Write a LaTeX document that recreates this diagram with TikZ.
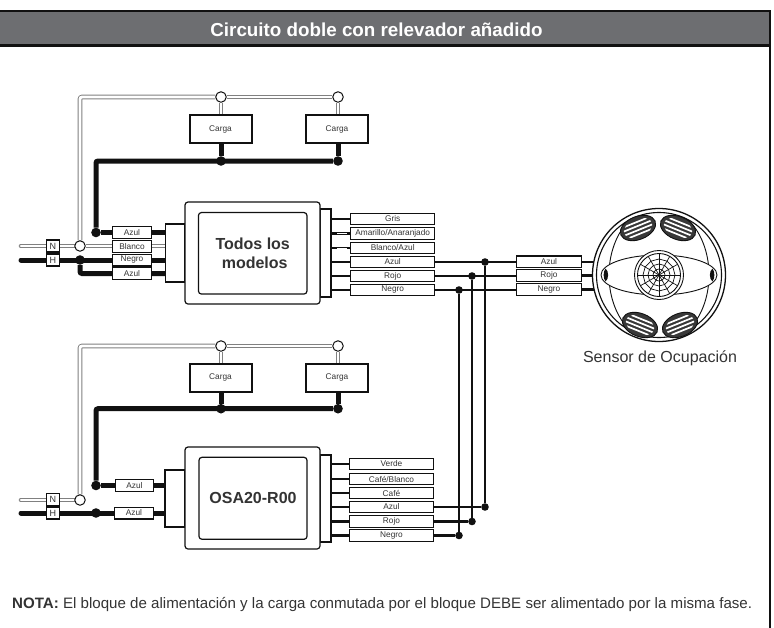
\documentclass[tikz,border=0pt]{standalone}
\usepackage{fontspec}
\setmainfont{Liberation Sans}
\usetikzlibrary{calc}
\definecolor{ink}{HTML}{111111}
\definecolor{txt}{HTML}{333333}
\definecolor{hdr}{HTML}{6D6E71}
\definecolor{pipec}{HTML}{808080}
\pgfdeclarelayer{bg}
\pgfsetlayers{bg,main}
\tikzset{
  lab/.style={draw=ink,line width=1.2pt,fill=white,inner sep=0pt,text=txt,font=\fontsize{8.3}{9}\selectfont},
  tag/.style={lab,minimum width=38.5pt,minimum height=11.8pt},
  rtag/.style={lab,minimum width=84pt,minimum height=11.5pt},
  stag/.style={lab,minimum width=65pt,minimum height=11.5pt},
  nh/.style={lab,minimum width=13pt,minimum height=12pt,font=\fontsize{9}{10}\selectfont},
  carga/.style={lab,line width=2pt,minimum width=62pt,minimum height=28pt},
  pipe/.style={draw=pipec,line width=0.9pt,double=white,double distance=2.8pt,rounded corners=2pt},
  thick wire/.style={draw=ink,line width=5pt,rounded corners=2pt},
  thin wire/.style={draw=ink,line width=2.4pt},
  hollow/.style={circle,draw=ink,line width=1pt,fill=white,minimum size=10.5pt,inner sep=0pt},
  bigdot/.style={circle,fill=ink,minimum size=9.6pt,inner sep=0pt},
  smalldot/.style={circle,fill=ink,minimum size=7.6pt,inner sep=0pt},
  module/.style={draw=ink,line width=1.2pt,fill=white,rounded corners=3pt,inner sep=0pt},
  inner module/.style={module,align=center,text=txt,font=\fontsize{16}{19}\selectfont\bfseries},
  block/.style={draw=ink,line width=1.2pt,fill=white,inner sep=0pt},
  sens/.style={draw=ink,line width=0.9pt},
}
\newcommand{\vent}[3]{%
  \begin{scope}[shift={(#1,#2)},rotate=#3]
    \fill[black!78] (0,0) ellipse [x radius=18.5pt,y radius=11.5pt];
    \draw[ink,line width=0.9pt] (0,0) ellipse [x radius=18.5pt,y radius=11.5pt];
    \begin{scope}
      \clip (0,0) ellipse [x radius=15pt,y radius=9pt];
      \foreach \yy in {-6,-2,2,6}
        \draw[white,line width=1.7pt] (-18pt,\yy pt) -- (18pt,\yy pt);
    \end{scope}
  \end{scope}}
\begin{document}
\begin{tikzpicture}[x=1pt,y=-1pt]
\useasboundingbox (0,0) rectangle (774,627);
% frame and header
\fill[hdr] (-1,11) rectangle (770,45.5);
\draw[ink,line width=2.2pt] (-2,11) -- (770,11) -- (770,630);
\draw[ink,line width=2.6pt] (-2,45.5) -- (770,45.5);
\node[font=\fontsize{18.8}{20}\selectfont\bfseries,text=white] (title) at (376.5,30) {Circuito doble con relevador añadido};

% ---------- upper circuit
\node[block,minimum width=19pt,minimum height=58pt] (b1l) at (175,253) {};
\node[block,minimum width=11pt,minimum height=88pt] (b1r) at (325.5,253) {};
\node[module,minimum width=135pt,minimum height=102pt] (m1) at (252.5,253) {};
\node[inner module,minimum width=108.5pt,minimum height=81.5pt] (i1) at (252.7,253.3) {Todos los\\[0pt]\hspace*{4pt}modelos};

\node[nh] (n1) at (52.8,246) {N};
\node[nh] (h1) at (52.8,260) {H};
\coordinate (n1s) at (21,246);
\coordinate (h1s) at (21,260);
\node[tag] (a1) at (132,232.5) {Azul};
\node[tag] (w1) at (132,246.5) {Blanco};
\node[tag] (k1) at (132,260) {Negro};
\node[tag] (a2) at (132,273.5) {Azul};
\node[hollow] (c1n) at (80,246) {};
\node[bigdot] (d1h) at (80,260) {};
\node[bigdot] (d1a) at (96,232.5) {};

\node[carga] (l1) at (220.5,129) {Carga};
\node[carga] (l2) at (337,129) {Carga};
\node[hollow] (c1a) at (221,97) {};
\node[hollow] (c1b) at (338,97) {};
\node[bigdot] (d1b) at (221,161) {};
\node[bigdot] (d1c) at (338,161) {};

\node[rtag] (r1) at (392.7,219) {Gris};
\node[rtag] (r2) at (392.7,233.5) {Amarillo/Anaranjado};
\node[rtag] (r3) at (392.7,248) {Blanco/Azul};
\node[rtag] (r4) at (392.7,262) {Azul};
\node[rtag] (r5) at (392.7,276) {Rojo};
\node[rtag] (r6) at (392.7,290) {Negro};
\node[smalldot] (t1) at (485,262) {};
\node[smalldot] (t2) at (472,276) {};
\node[smalldot] (t3) at (459,290) {};

\node[stag] (s1) at (549,261.7) {Azul};
\node[stag] (s2) at (549,275.5) {Rojo};
\node[stag] (s3) at (549,289.5) {Negro};
\coordinate (sc) at (659,275);

% ---------- lower circuit
\node[block,minimum width=20pt,minimum height=57pt] (b2l) at (175,498.5) {};
\node[block,minimum width=11pt,minimum height=87pt] (b2r) at (325.5,498.5) {};
\node[module,minimum width=135pt,minimum height=102pt] (m2) at (252.5,498) {};
\node[inner module,minimum width=108pt,minimum height=82pt] (i2) at (253,498.3) {OSA20-R00};

\node[nh] (n2) at (52.8,499.5) {N};
\node[nh] (h2) at (52.8,513) {H};
\coordinate (n2s) at (21,500);
\coordinate (h2s) at (21,513);
\node[tag] (a3) at (134.5,485.5) {Azul};
\node[tag] (a4) at (134,513) {Azul};
\node[hollow] (c2n) at (80,500) {};
\node[bigdot] (d2h) at (96,513) {};
\node[bigdot] (d2a) at (96,485.5) {};

\node[carga] (l3) at (220.5,377.5) {Carga};
\node[carga] (l4) at (337,377.5) {Carga};
\node[hollow] (c2a) at (221,346) {};
\node[hollow] (c2b) at (338,346) {};
\node[bigdot] (d2b) at (221,408.7) {};
\node[bigdot] (d2c) at (338,408.7) {};

\node[rtag] (q1) at (391.5,464) {Verde};
\node[rtag] (q2) at (391.5,479) {Café/Blanco};
\node[rtag] (q3) at (391.5,493) {Café};
\node[rtag] (q4) at (391.5,507) {Azul};
\node[rtag] (q5) at (391.5,521.5) {Rojo};
\node[rtag] (q6) at (391.5,535.5) {Negro};
\node[smalldot] (u1) at (485,507) {};
\node[smalldot] (u2) at (472,521.5) {};
\node[smalldot] (u3) at (459,535.5) {};

% ---------- connectors (behind the nodes)
\begin{pgfonlayer}{bg}
  % neutral pipes
  \draw[pipe,line cap=round] (n1s) -- (c1n);
  \draw[pipe] (c1n) -- (c1n -| b1l.west);
  \draw[pipe] (c1n) -- (c1n |- c1a) -- (c1a);
  \draw[pipe] (c1a) -- (c1b);
  \draw[pipe] (c1a) -- (l1.north -| c1a);
  \draw[pipe] (c1b) -- (l2.north -| c1b);
  \draw[pipe,line cap=round] (n2s) -- (c2n);
  \draw[pipe] (c2n) -- (c2n |- c2a) -- (c2a);
  \draw[pipe] (c2a) -- (c2b);
  \draw[pipe] (c2a) -- (l3.north -| c2a);
  \draw[pipe] (c2b) -- (l4.north -| c2b);
  % heavy wires upper
  \draw[thick wire,line cap=round] (h1s) -- (h1s -| b1l.west);
  \draw[thick wire] (d1h) -- (d1h |- a2) -- (a2 -| b1l.west);
  \draw[thick wire] (d1a) -- (a1 -| b1l.west);
  \draw[thick wire] (d1a) -- (d1a |- d1c) -- (d1c);
  \draw[thick wire] (d1b) -- (d1b |- l1.south);
  \draw[thick wire] (d1c) -- (d1c |- l2.south);
  % heavy wires lower
  \draw[thick wire,line cap=round] (h2s) -- (h2s -| b2l.west);
  \draw[thick wire] (d2a) -- (a3 -| b2l.west);
  \draw[thick wire] (d2a) -- (d2a |- d2c) -- (d2c);
  \draw[thick wire] (d2b) -- (d2b |- l3.south);
  \draw[thick wire] (d2c) -- (d2c |- l4.south);
  % signal wires upper
  \foreach \w in {r1,r2,r3,r4,r5,r6}
    \draw[thin wire] (\w.west -| b1r.east) -- (\w.west);
  \draw[white,line width=1pt] ($(r2.west)+(-13,0)$) -- ($(r2.west)+(-3.5,0)$);
  \draw[white,line width=1pt] ($(r3.west)+(-13,0)$) -- ($(r3.west)+(-3.5,0)$);
  \draw[thin wire] (r4.east) -- (s1.west |- r4);
  \draw[thin wire] (r5.east) -- (s2.west |- r5);
  \draw[thin wire] (r6.east) -- (s3.west |- r6);
  \draw[thin wire] (s1.east) -- (s1 -| sc);
  \draw[thin wire] (s2.east) -- (s2 -| sc);
  \draw[thin wire] (s3.east) -- (s3 -| sc);
  % signal wires lower
  \foreach \w in {q1,q2,q3,q4,q5,q6}
    \draw[thin wire] (\w.west -| b2r.east) -- (\w.west);
  \draw[thin wire] (q4.east) -- (u1);
  \draw[thin wire] (q5.east) -- (u2);
  \draw[thin wire] (q6.east) -- (u3);
  % risers
  \draw[thin wire] (t1) -- (u1);
  \draw[thin wire] (t2) -- (u2);
  \draw[thin wire] (t3) -- (u3);
\end{pgfonlayer}

% ---------- sensor
\begin{scope}[shift={(sc)}]
  \filldraw[sens,fill=white,line width=1.3pt] (0,0) circle [radius=66.5pt];
  \draw[sens,line width=1.1pt] (0,0) circle [radius=62.5pt];
  \begin{scope}
    \clip (0,0) circle [radius=62.5pt];
    \draw[sens] (0,0) ellipse [x radius=50pt,y radius=68pt];
  \end{scope}
  \filldraw[sens,fill=white] (0,0) ellipse [x radius=58pt,y radius=20pt];
  \fill[ink] (-53.5,-6.5) .. controls (-56,-3) and (-56,3) .. (-53.5,6.5) .. controls (-50,4) and (-50,-4) .. (-53.5,-6.5) -- cycle;
  \fill[ink] (53.5,-6.5) .. controls (56,-3) and (56,3) .. (53.5,6.5) .. controls (50,4) and (50,-4) .. (53.5,-6.5) -- cycle;
  \filldraw[sens,fill=white] (0,0) circle [radius=24.5pt];
  \draw[sens] (0,0) circle [radius=21.5pt];
  \foreach \a in {0,30,...,330}
    \draw[sens,line width=0.7pt] (0,0) -- (\a:21.5pt);
  \foreach \r in {6,11,16}
    \draw[sens,line width=0.7pt] (0:\r pt) \foreach \a in {30,60,...,330} {-- (\a:\r pt)} -- cycle;
  \fill[ink] (0,0) circle [radius=1.6pt];
\end{scope}
\vent{638}{228}{22}
\vent{678}{228}{-22}
\vent{640}{325}{-22}
\vent{680}{325}{22}
\node[font=\fontsize{16}{18}\selectfont,text=txt] (stxt) at (660,358) {Sensor de Ocupación};

\node[font=\fontsize{15.1}{17}\selectfont,text=txt,anchor=west,inner sep=0pt] (nota) at (12,604) {\textbf{NOTA:} El bloque de alimentación y la carga conmutada por el bloque DEBE ser alimentado por la misma fase.};
\end{tikzpicture}
\end{document}
